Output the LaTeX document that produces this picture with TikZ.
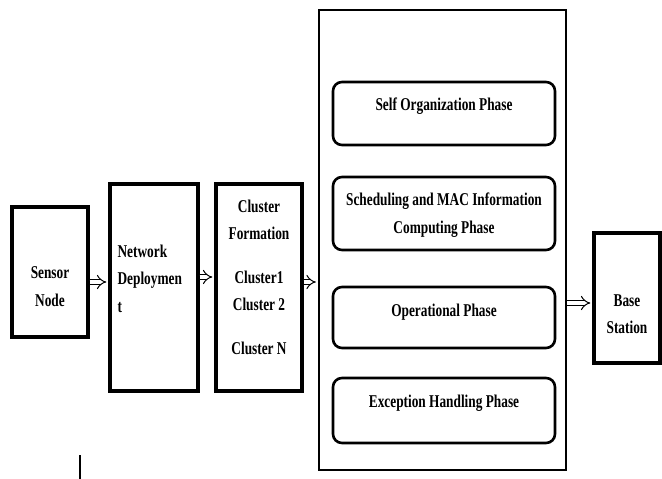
\documentclass[tikz,border=0pt]{standalone}
\usepackage{fontspec}
\setmainfont{Liberation Serif}[FakeStretch=0.74]
\usetikzlibrary{arrows.meta, positioning}

\begin{document}
\begin{tikzpicture}[x=1pt, y=-1pt,
    every node/.style={font=\fontsize{18}{27.5}\selectfont\bfseries},
    blk/.style={draw, line width=3.2pt, inner sep=0pt},
    phase/.style={draw, line width=2.6pt, rounded corners=9pt, minimum width=222pt, inner sep=0pt},
    txt/.style={inner sep=0pt, align=center},
    imp/.style={double, double distance=4pt, line width=1pt, -{Implies}, shorten >=2pt}
]
\useasboundingbox (0,0) rectangle (662,479);

% Sensor node
\node[blk, minimum width=76pt, minimum height=130pt] (sensor) at (50,272) {};
\node[txt, below=61pt of sensor.north] (sensortxt) {Sensor\\Node};

% Network deployment
\node[blk, minimum width=88pt, minimum height=207pt] (net) at (154,287.5) {};
\node[txt, align=left, below right=62pt and 9pt of net.north west] (nettxt) {Network\\Deploymen\\t};

% Cluster formation
\node[blk, minimum width=86pt, minimum height=207pt] (clus) at (259,287.5) {};
\node[txt, below=17pt of clus.north] (clustxt) {Cluster\\Formation\\[16pt]Cluster1\\Cluster 2\\[16pt]Cluster N};

% Phases
\node[draw, line width=2.2pt, minimum width=247pt, minimum height=460pt] (phases) at (442.5,240) {};
\node[phase, minimum height=63pt] (selforg) at (444,113.5) {};
\node[phase, minimum height=73pt] (sched) at (444,213.5) {};
\node[phase, minimum height=61pt] (oper) at (444,317.5) {};
\node[phase, minimum height=65pt] (except) at (444,410.5) {};
\node[txt, below=17pt of selforg.north] (selforgtxt) {Self Organization Phase};
\node[txt, below=17pt of sched.north] (schedtxt) {Scheduling and MAC Information\\Computing Phase};
\node[txt, below=18pt of oper.north] (opertxt) {Operational Phase};
\node[txt, below=18pt of except.north] (excepttxt) {Exception Handling Phase};

% Base station
\node[blk, minimum width=66pt, minimum height=130pt] (base) at (627,298) {};
\node[txt, below=63pt of base.north] (basetxt) {Base\\Station};

\draw[imp] ([yshift=-10pt]sensor.east) -- ([yshift=5.5pt]net.west);
\draw[imp] ([yshift=10.5pt]net.east) -- ([yshift=10.5pt]clus.west);
\draw[imp] ([yshift=5.5pt]clus.east) -- ([yshift=-42pt]phases.west);
\draw[imp] ([yshift=-63pt]phases.east) -- ([yshift=-5pt]base.west);

% stray mark
\coordinate (marktop) at (80,455);
\coordinate (markbot) at (80,479);
\draw[line width=1.5pt] (marktop) -- (markbot);

\end{tikzpicture}
\end{document}
